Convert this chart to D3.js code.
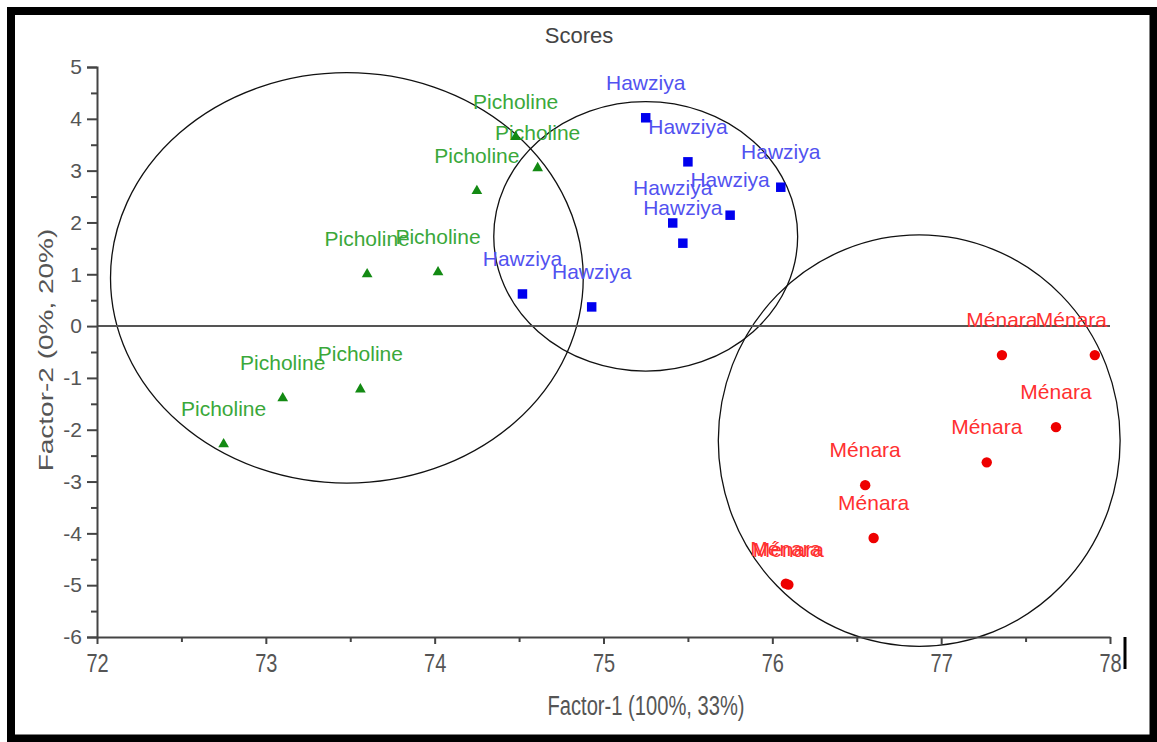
<!DOCTYPE html>
<html>
<head>
<meta charset="utf-8">
<script src="https://cdn.jsdelivr.net/npm/d3@7"></script>
<style>
  body { margin: 0; background: #fff; }
  svg { display: block; font-family: "Liberation Sans", Arial, sans-serif; }
</style>
</head>
<body>
<svg width="1157" height="742"></svg>
<script>
// Scores
const picholineX = [74.48, 74.61, 74.25, 74.02, 73.60, 73.10, 73.56, 72.75];
const picholineY = [3.65, 3.05, 2.61, 1.04, 1.00, -1.39, -1.22, -2.28];
const hawziyaX = [75.25, 75.50, 76.05, 75.75, 75.41, 75.47, 74.52, 74.93];
const hawziyaY = [4.02, 3.17, 2.68, 2.14, 1.99, 1.60, 0.62, 0.37];
const menaraX = [77.36, 77.91, 77.68, 77.27, 76.55, 76.60, 76.08, 76.095];
const menaraY = [-0.56, -0.56, -1.95, -2.63, -3.07, -4.09, -4.97, -4.99];

// Group ellipses (centre and radii in data units)
const ellipseCx = [73.48, 75.25, 76.87];
const ellipseCy = [0.93, 1.73, -2.21];
const ellipseRx = [1.40, 0.90, 1.19];
const ellipseRy = [3.96, 2.60, 3.97];

const xTicks = [72, 73, 74, 75, 76, 77, 78];
const yTicks = [5, 4, 3, 2, 1, 0, -1, -2, -3, -4, -5, -6];

const svg = d3.select("svg");

// Outer frame
svg.append("rect")
    .attr("x", 11).attr("y", 11)
    .attr("width", 1142.5).attr("height", 727.5)
    .attr("fill", "none")
    .attr("stroke", "#000")
    .attr("stroke-width", 8);

const xScale = d3.scaleLinear().domain([72, 78]).range([97, 1110]);
const yScale = d3.scaleLinear().domain([-6, 5]).range([637, 67]);

// Title
svg.append("text")
    .attr("x", 579).attr("y", 43)
    .attr("text-anchor", "middle")
    .attr("font-size", 22)
    .attr("fill", "#444")
    .text("Scores");

// Ellipses
const ell = d3.range(ellipseCx.length);
svg.selectAll("ellipse")
    .data(ell)
    .enter()
    .append("ellipse")
    .attr("cx", i => xScale(ellipseCx[i]))
    .attr("cy", i => yScale(ellipseCy[i]))
    .attr("rx", i => xScale(72 + ellipseRx[i]) - xScale(72))
    .attr("ry", i => yScale(0) - yScale(ellipseRy[i]))
    .attr("fill", "none")
    .attr("stroke", "#111")
    .attr("stroke-width", 1.3);

// Zero line
svg.append("line")
    .attr("x1", xScale(72)).attr("x2", xScale(78))
    .attr("y1", yScale(0)).attr("y2", yScale(0))
    .attr("stroke", "#555")
    .attr("stroke-width", 2);

// Y axis (plain hyphen for negatives, as in the original)
const yAxis = svg.append("g")
    .attr("transform", `translate(${xScale(72)},0)`)
    .call(d3.axisLeft(yScale).tickValues(yTicks).tickSize(10).tickPadding(5).tickFormat(d => String(d)));
svg.append("g")
    .attr("transform", `translate(${xScale(72)},0)`)
    .call(d3.axisLeft(yScale).tickValues(d3.range(-5.5, 5, 1)).tickSize(6).tickFormat(""))
    .select(".domain").remove();
yAxis.selectAll("text")
    .attr("font-size", 21)
    .attr("fill", "#555")
    .attr("font-family", "Liberation Sans, Arial, sans-serif");

// X axis
const xAxis = svg.append("g")
    .attr("transform", `translate(0,${yScale(-6)})`)
    .call(d3.axisBottom(xScale).tickValues(xTicks).tickSize(7).tickSizeOuter(0).tickFormat(d => String(d)));
svg.append("g")
    .attr("transform", `translate(0,${yScale(-6)})`)
    .call(d3.axisBottom(xScale).tickValues(d3.range(72.5, 78, 1)).tickSize(5).tickFormat(""))
    .select(".domain").remove();
xAxis.selectAll(".tick text")
    .attr("y", 0)
    .attr("dy", 0)
    .attr("font-size", 25)
    .attr("fill", "#555")
    .attr("font-family", "Liberation Sans, Arial, sans-serif")
    .attr("transform", "translate(0,35) scale(0.8,1)");

svg.selectAll(".domain, .tick line")
    .attr("stroke", "#444")
    .attr("stroke-width", 2);

// Mark at the end of the x axis
svg.append("line")
    .attr("x1", 1125).attr("x2", 1125)
    .attr("y1", yScale(-6)).attr("y2", yScale(-6) + 32)
    .attr("stroke", "#000")
    .attr("stroke-width", 3);

// Axis titles
svg.append("text")
    .attr("transform", "translate(646,715) scale(0.72,1)")
    .attr("text-anchor", "middle")
    .attr("font-size", 28)
    .attr("fill", "#555")
    .text("Factor-1 (100%, 33%)");

svg.append("text")
    .attr("transform", "translate(53,350) rotate(-90) scale(1,0.75)")
    .attr("text-anchor", "middle")
    .attr("font-size", 28)
    .attr("fill", "#555")
    .text("Factor-2 (0%, 20%)");

// Groups
const groups = [
    { name: "Picholine", xs: picholineX, ys: picholineY, mark: "triangle", color: "#138a13", label: "#3aa83a" },
    { name: "Hawziya", xs: hawziyaX, ys: hawziyaY, mark: "square", color: "#0000ee", label: "#5252f0" },
    { name: "Ménara", xs: menaraX, ys: menaraY, mark: "circle", color: "#ee0000", label: "#ff3030" }
];

const xMax = xScale.range()[1];

groups.forEach(function(g) {
    const pts = g.xs.map((x, i) => ({ x: x, y: g.ys[i] }));

    // Labels, kept inside the plot on the right
    svg.append("g")
        .selectAll("text")
        .data(pts)
        .enter()
        .append("text")
        .attr("font-size", 21)
        .attr("fill", g.label)
        .attr("text-anchor", "middle")
        .attr("y", d => yScale(d.y) - 28)
        .text(g.name)
        .attr("x", function(d) {
            const w = this.getComputedTextLength();
            return Math.min(xScale(d.x), xMax - 3 - w / 2);
        });

    const sym = g.mark === "triangle" ? d3.symbolTriangle
        : g.mark === "square" ? d3.symbolSquare : d3.symbolCircle;
    const size = g.mark === "triangle" ? 50 : g.mark === "square" ? 90 : 85;

    svg.append("g")
        .selectAll("path")
        .data(pts)
        .enter()
        .append("path")
        .attr("transform", d => `translate(${xScale(d.x)},${yScale(d.y)})`)
        .attr("d", d3.symbol().type(sym).size(size))
        .attr("fill", g.color);
});
</script>
</body>
</html>
